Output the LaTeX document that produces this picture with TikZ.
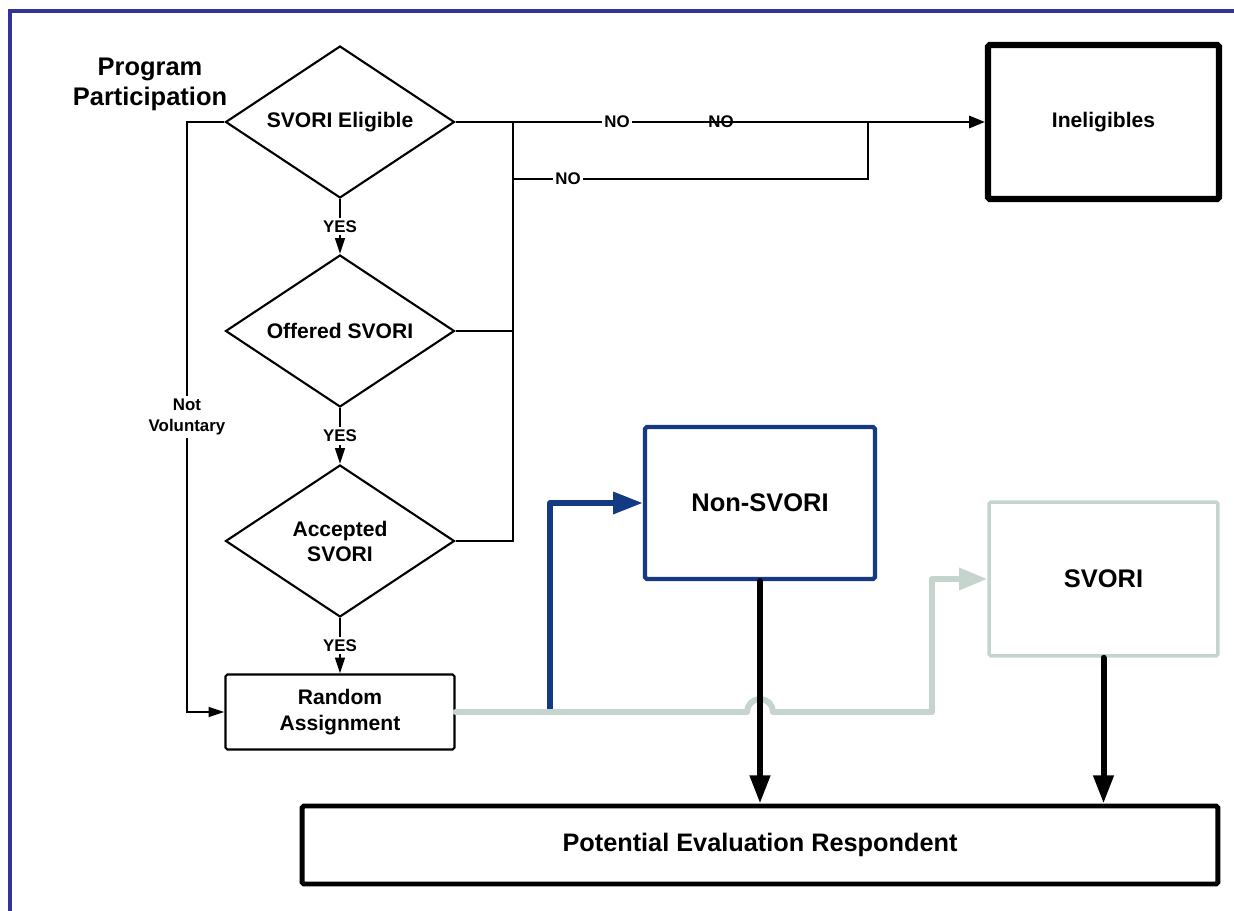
\documentclass[tikz,border=0pt]{standalone}
\usepackage{fontspec}
\setmainfont{Liberation Sans}
\usetikzlibrary{shapes.geometric,arrows.meta}

\definecolor{frameblue}{HTML}{333399}
\definecolor{nonblue}{HTML}{143A84}
\definecolor{svgray}{HTML}{C5D5CD}

\tikzset{
  decide/.style={diamond,draw,aspect=1.5,line width=1.2pt,minimum width=4.58cm,minimum height=3.04cm,
    inner sep=0pt,align=center,font=\bfseries\fontsize{12}{14.2}\selectfont},
  box/.style={rectangle,draw,align=center,inner sep=0pt,rounded corners=1pt},
  lbl/.style={fill=white,inner sep=1.5pt,align=center,font=\bfseries\fontsize{9.6}{12}\selectfont},
  flow/.style={line width=1.3pt},
  thick flow/.style={line width=3.4pt,line cap=round,line join=round},
  small tip/.style={-{Triangle[length=9pt,width=5.5pt]}},
}

\begin{document}
\begin{tikzpicture}[x=0.02cm,y=-0.02cm]
  \useasboundingbox (0,0) rectangle (1234,911);
  \draw[frameblue,line width=2.3pt] (10,911) -- (10,11) -- (1234,11);

  \node (title) at (150,84) [align=center,font=\bfseries\fontsize{14.5}{17}\selectfont] {Program\\Participation};

  \node[decide] (elig)   at (340,122) {SVORI Eligible};
  \node[decide] (offer)  at (340,331) {Offered SVORI};
  \node[decide] (accept) at (340,541) {Accepted\\SVORI};
  \node[box,line width=1.2pt,minimum width=4.58cm,minimum height=1.5cm,
        font=\bfseries\fontsize{12}{14.8}\selectfont] (rand) at (340,712) {Random\\Assignment};

  \node[box,line width=3.6pt,minimum width=4.62cm,minimum height=3.08cm,
        font=\bfseries\fontsize{12}{14}\selectfont] (inel) at (1103.5,122) {Ineligibles};
  \node[box,nonblue,line width=2.4pt,minimum width=4.6cm,minimum height=3.04cm,
        text=black,font=\bfseries\fontsize{14.5}{17}\selectfont] (nonsv) at (760,503) {Non-SVORI};
  \node[box,svgray,line width=2pt,minimum width=4.58cm,minimum height=3.08cm,
        text=black,font=\bfseries\fontsize{14.5}{17}\selectfont] (svori) at (1103.5,579) {SVORI};
  \node[box,line width=2.8pt,minimum width=18.32cm,minimum height=1.56cm,
        font=\bfseries\fontsize{14.4}{17}\selectfont] (resp) at (760,845) {Potential Evaluation Respondent};

  \coordinate (nv) at (187,122);
  \coordinate (j) at (513,122);
  \coordinate (m) at (513,179);
  \coordinate (n) at (868,179);
  \coordinate (k) at (868,122);
  \coordinate (split) at (550,712);
  \coordinate (hop) at (747,712);
  \coordinate (bend) at (932,712);

  % ineligible branches
  \draw[flow,-{Triangle[length=9pt,width=7pt]}] (elig.east) -- (inel.west);
  \node[lbl] (no1) at (617,122) {NO};
  \node[lbl,fill=none] (no2) at (721,122) {NO};
  \draw[flow] (accept.east) -| (j);
  \draw[flow] (offer.east) -- (offer.east -| j);
  \draw[flow] (m) -- node[lbl,pos=0.155] {NO} (n) -- (k);

  % yes chain
  \draw[flow,small tip] (elig.south) -- node[lbl] {YES} (offer.north);
  \draw[flow,small tip] (offer.south) -- node[lbl] {YES} (accept.north);
  \draw[flow,small tip] (accept.south) -- node[lbl] {YES} (rand.north);
  \draw[flow,small tip] (elig.west) -- (nv) |- node[lbl,pos=0.25] {Not\\Voluntary} (rand.west);

  % assignment
  \draw[thick flow,nonblue,-{Triangle[length=17pt,width=12pt]}] (split) |- (nonsv.west);
  \draw[thick flow,svgray,-{Triangle[length=16pt,width=12pt]}] (rand.east) -- (hop)
      arc[start angle=180,end angle=0,radius=0.26cm] -- (bend) |- (svori.west);
  \draw[thick flow,-{Triangle[length=16pt,width=11pt]}] (nonsv.south) -- (nonsv.south |- resp.north);
  \draw[thick flow,-{Triangle[length=16pt,width=11pt]}] (svori.south) -- (svori.south |- resp.north);
\end{tikzpicture}
\end{document}
